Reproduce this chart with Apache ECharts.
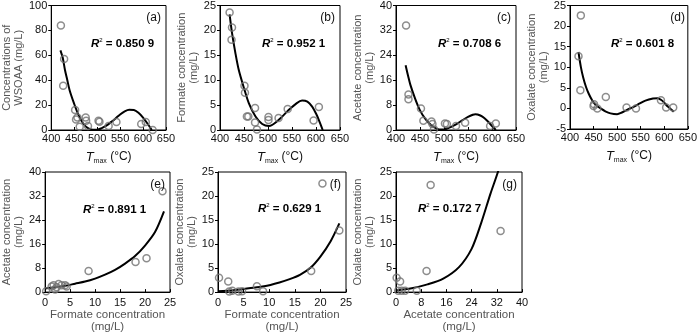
<!DOCTYPE html>
<html lang="en">
<head>
<meta charset="UTF-8">
<title>Organic acids vs Tmax</title>
<script src="https://cdn.jsdelivr.net/npm/echarts@6/dist/echarts.min.js"></script>
<style>
  html, body { margin: 0; padding: 0; background: #fff; }
  #main { width: 700px; height: 334px; }
</style>
</head>
<body>
<div id="main"></div>
<script>
// ---- data ----
// (a) WSOAA vs Tmax
var tmaxA = [421, 428, 426, 452, 454, 457, 462, 475, 476, 480, 503, 505, 525, 542, 596, 606, 621];
var wsoaaA = [84, 57, 35.5, 16, 8.5, 10, 2.7, 10, 7.5, 3.2, 7.5, 6.7, 3.2, 6.4, 4.8, 6.4, 0];
var fitAX = [420, 425, 430, 435, 440, 450, 460, 470, 480, 490, 500, 510, 520, 530, 540, 550, 560, 570, 580, 590, 600, 610, 619];
var fitAY = [64, 58, 48, 40, 32, 21, 11.5, 5, 1.5, 0.3, 0.2, 1.5, 3.5, 6.3, 9.3, 12.5, 15, 16.2, 16, 13.8, 10, 5, 0];

// (b) formate vs Tmax
var tmaxB = [420, 425, 424, 451, 452, 456, 459, 473, 473, 477, 501, 501, 522, 541, 595, 606];
var formateB = [23.6, 20.6, 18.1, 8.9, 7.5, 2.7, 2.7, 4.4, 1.5, 0.1, 2.6, 2.0, 2.4, 4.2, 1.9, 4.6];
var fitBX = [420, 425, 432, 439, 450, 460, 474, 488, 502, 522, 543, 560, 571, 582, 592, 600, 606, 614];
var fitBY = [23.2, 19.5, 15.5, 12.1, 8.4, 5.4, 2.7, 1.2, 0.8, 2.0, 4.0, 5.4, 5.9, 5.7, 4.7, 3.3, 2.0, 0];

// (c) acetate vs Tmax
var tmaxC = [421, 426, 426, 452, 457, 474, 476, 479, 502, 506, 525, 544, 596, 608];
var acetateC = [33.6, 11.4, 9.9, 6.9, 3.0, 2.7, 1.9, 0.2, 2.1, 1.9, 1.3, 2.3, 1.3, 2.1];
var fitCX = [420, 425, 430, 440, 450, 460, 470, 480, 490, 500, 510, 520, 530, 540, 550, 560, 565, 570, 580, 590, 600, 608];
var fitCY = [20.8, 17.5, 14.5, 10, 6.3, 3.8, 2.0, 0.8, 0.2, 0.2, 0.7, 1.4, 2.3, 3.3, 4.2, 4.9, 5.1, 5.0, 4.3, 3.0, 1.3, 0];

// (d) oxalate vs Tmax
var tmaxD = [423, 418, 422, 450, 451, 458, 476, 520, 540, 593, 604, 619];
var oxalateD = [22.6, 12.7, 4.4, 0.6, 1.0, 0.0, 2.8, 0.2, 0.0, 2.0, 0.2, 0.2];
var fitDX = [418, 423, 428, 434, 440, 447, 455, 465, 475, 486, 500, 510, 520, 535, 548, 560, 576, 586, 593, 600, 607, 614, 620];
var fitDY = [13.7, 10.1, 7.5, 5.2, 3.5, 2.0, 0.8, 0, -0.7, -1.2, -1.4, -1.0, -0.4, 0.4, 1.2, 1.9, 2.4, 2.5, 2.1, 1.4, 0.5, -0.2, -0.8];

// (e) acetate vs formate
var formateE = [23.5, 20.3, 18.1, 8.7, 0.2, 1.3, 1.7, 2.3, 2.0, 2.7, 3.3, 4.0, 4.3];
var acetateE = [33.6, 11.3, 10.0, 7.0, 0.3, 1.9, 2.3, 1.6, 0.9, 2.7, 2.3, 2.3, 1.9];
var fitEX = [0, 2, 4, 6, 8, 10, 12, 14, 16, 18, 20, 22, 23.8];
var fitEY = [1.2, 1.6, 2.1, 2.8, 3.5, 4.5, 5.8, 7.4, 9.5, 12.0, 15.5, 20.0, 26.9];

// (f) oxalate vs formate
var formateF = [0.2, 2.0, 2.2, 2.8, 4.0, 4.7, 7.6, 8.8, 18.2, 20.4, 23.7];
var oxalateF = [3.0, 2.2, 0.1, 0.3, 0.1, 0.2, 1.2, 0.2, 4.4, 22.6, 12.8];
var fitFX = [0, 3, 6, 9, 12, 14, 16, 18, 20, 22, 23.7];
var fitFY = [0.2, 0.4, 0.8, 1.2, 2.0, 2.7, 3.6, 5.0, 7.4, 10.6, 14.3];

// (g) oxalate vs acetate
var acetateG = [0.2, 1.3, 0.7, 1.8, 2.9, 6.6, 9.7, 11.0, 33.2];
var oxalateG = [3.0, 2.2, 0.3, 0.3, 0.3, 0.3, 4.4, 22.3, 12.7];
var fitGX = [0, 5, 10, 15, 20, 24, 27, 30, 32.5, 33.5];
var fitGY = [0.35, 0.8, 1.6, 2.8, 5.2, 9.0, 14.3, 20.5, 25.3, 28];

// axis ranges [min, max, interval]
var xRanges = [[400, 650, 50], [400, 650, 50], [400, 650, 50], [400, 650, 50], [0, 25, 5], [0, 25, 5], [0, 40, 8]];
var yRanges = [[0, 100, 20], [0, 25, 5], [0, 40, 8], [-5, 25, 5], [0, 40, 8], [0, 25, 5], [0, 25, 5]];

var yNames = ['Concentrations of\nWSOAA (mg/L)', 'Formate concentration\n(mg/L)', 'Acetate concentration\n(mg/L)',
  'Oxalate concentration\n(mg/L)', 'Acetate concentration\n(mg/L)', 'Oxalate concentration\n(mg/L)', 'Oxalate concentration\n(mg/L)'];
var xNamesBottom = ['Formate concentration\n(mg/L)', 'Formate concentration\n(mg/L)', 'Acetate concentration\n(mg/L)'];
var r2Values = ['0.850 9', '0.952 1', '0.708 6', '0.601 8', '0.891 1', '0.629 1', '0.172 7'];
var letters = ['(a)', '(b)', '(c)', '(d)', '(e)', '(f)', '(g)'];

var panels = [
  [tmaxA, wsoaaA, fitAX, fitAY], [tmaxB, formateB, fitBX, fitBY], [tmaxC, acetateC, fitCX, fitCY],
  [tmaxD, oxalateD, fitDX, fitDY], [formateE, acetateE, fitEX, fitEY], [formateF, oxalateF, fitFX, fitFY],
  [acetateG, oxalateG, fitGX, fitGY]
];

// ---- layout ----
var FONT = "'Liberation Sans', Arial, sans-serif";
var boxes = [
  [45, 5, 121, 125], [220, 5, 120, 125], [396, 5, 120, 125], [570, 5, 120, 124],
  [45, 172, 125, 124], [218, 172, 128, 124], [396, 172, 126, 124]
];
var r2Pos = [[91, 37], [262, 37], [438, 37], [611, 37], [83, 203], [258, 202], [418, 202]];

function zip(a, b) {
  return a.map(function (v, i) { return [v, b[i]]; });
}

var grid = [], xAxis = [], yAxis = [], series = [], title = [];

boxes.forEach(function (b, i) {
  var top = i < 4;
  grid.push({
    left: b[0], top: b[1], width: b[2], height: b[3],
    show: true, borderColor: '#000', borderWidth: 1, backgroundColor: 'transparent'
  });
  var xr = xRanges[i], yr = yRanges[i];
  xAxis.push({
    type: 'value', gridIndex: i, min: xr[0], max: xr[1], interval: xr[2],
    axisLine: { show: true, onZero: false, lineStyle: { color: '#000', width: 1 } },
    axisTick: { show: true, inside: true, length: 3, lineStyle: { color: '#000' } },
    splitLine: { show: false },
    axisLabel: { margin: top ? 3 : 5, color: '#111', fontSize: 11, fontFamily: FONT, showMinLabel: true, showMaxLabel: true },
    name: top ? '{t|T}{m|max} (°C)' : xNamesBottom[i - 4],
    nameLocation: 'middle',
    nameGap: top ? 19 : 14,
    nameTextStyle: top ? {
      color: '#111', fontFamily: FONT, fontSize: 12,
      rich: {
        t: { fontStyle: 'italic', fontSize: 13, fontFamily: FONT, color: '#111', lineHeight: 16 },
        m: { fontSize: 7, fontFamily: FONT, color: '#111', verticalAlign: 'bottom', lineHeight: 9 }
      }
    } : { color: '#555', fontFamily: FONT, fontSize: 11.5, lineHeight: 12 }
  });
  yAxis.push({
    type: 'value', gridIndex: i, min: yr[0], max: yr[1], interval: yr[2],
    axisLine: { show: true, onZero: false, lineStyle: { color: '#000', width: 1 } },
    axisTick: { show: true, inside: false, length: 3, lineStyle: { color: '#000' } },
    splitLine: { show: false },
    axisLabel: { margin: 4, color: '#111', fontSize: 11, fontFamily: FONT, showMinLabel: true, showMaxLabel: true },
    name: yNames[i],
    nameLocation: 'middle',
    nameGap: 18,
    nameTextStyle: { color: '#555', fontFamily: FONT, fontSize: 11, lineHeight: 12 }
  });
  var p = panels[i];
  series.push({
    type: 'line', xAxisIndex: i, yAxisIndex: i, data: zip(p[2], p[3]),
    smooth: 0.3, showSymbol: false, clip: true, silent: true,
    lineStyle: { color: '#000', width: 2 }, z: 2
  });
  series.push({
    type: 'scatter', xAxisIndex: i, yAxisIndex: i, data: zip(p[0], p[1]),
    symbol: 'circle', symbolSize: 7,
    itemStyle: { color: 'rgba(0,0,0,0)', borderColor: '#707070', borderWidth: 1.5 }, z: 3
  });
  title.push({
    text: '{r|R}{s|2}{n| = ' + r2Values[i] + '}',
    left: r2Pos[i][0], top: r2Pos[i][1], padding: 0,
    textStyle: {
      rich: {
        r: { fontStyle: 'italic', fontWeight: 'bold', fontSize: 11.5, fontFamily: FONT, color: '#000', lineHeight: 13 },
        s: { fontSize: 6, fontWeight: 'normal', fontFamily: FONT, color: '#000', verticalAlign: 'top', lineHeight: 7 },
        n: { fontSize: 11.5, fontWeight: 'bold', fontFamily: FONT, color: '#000', lineHeight: 13 }
      }
    }
  });
  title.push({
    text: letters[i],
    right: 700 - (b[0] + b[2]) + 5, top: b[1] + 7, padding: 0,
    textStyle: { fontSize: 12, fontWeight: 'normal', fontFamily: FONT, color: '#111' }
  });
});

var chart = echarts.init(document.getElementById('main'), null, { renderer: 'canvas' });
chart.setOption({
  animation: false,
  backgroundColor: '#fff',
  title: title,
  grid: grid,
  xAxis: xAxis,
  yAxis: yAxis,
  series: series
});
</script>
</body>
</html>
